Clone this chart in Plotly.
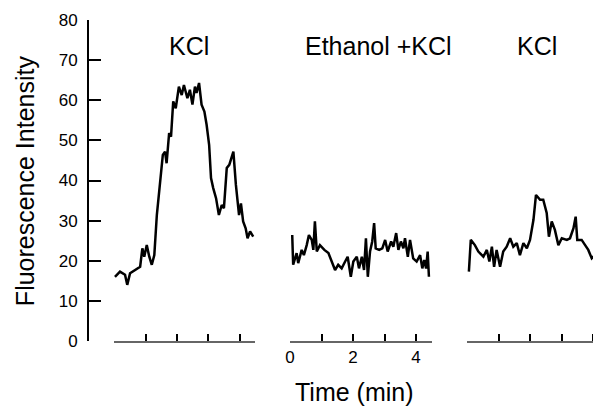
import plotly.graph_objects as go

# Panel 1: KCl
t1 = [0.03, 0.19, 0.35, 0.42, 0.51, 0.67, 0.83, 0.90, 0.96, 1.04, 1.12, 1.20, 1.28, 1.36, 1.46,
      1.55, 1.62, 1.67, 1.75, 1.81, 1.88, 1.96, 2.06, 2.15, 2.22, 2.33, 2.41, 2.49, 2.57, 2.62,
      2.70, 2.78, 2.87, 2.94, 3.02, 3.08, 3.15, 3.24, 3.33, 3.42, 3.49, 3.58, 3.66, 3.79, 3.87,
      3.97, 4.03, 4.10, 4.18, 4.24, 4.32, 4.42]
v1 = [16.0, 17.3, 16.5, 14.0, 16.9, 17.7, 18.5, 23.1, 21.0, 23.9, 21.0, 19.0, 21.4, 31.4, 38.9,
      46.4, 47.2, 44.3, 51.8, 50.9, 59.7, 58.0, 63.4, 61.3, 63.8, 60.5, 62.6, 58.9, 63.4, 61.8,
      64.3, 58.9, 57.2, 53.9, 48.9, 40.6, 38.1, 35.6, 31.4, 33.9, 33.1, 43.1, 43.9, 47.2, 38.9,
      31.4, 34.3, 29.8, 28.1, 25.6, 27.3, 26.0]

# Panel 2: Ethanol + KCl
t2 = [0.07, 0.10, 0.21, 0.26, 0.37, 0.44, 0.53, 0.60, 0.69, 0.74, 0.79, 0.85, 0.95, 1.09, 1.22,
      1.32, 1.43, 1.53, 1.64, 1.75, 1.83, 1.93, 2.01, 2.12, 2.19, 2.28, 2.35, 2.41, 2.47, 2.54,
      2.61, 2.67, 2.72, 2.83, 2.93, 3.02, 3.10, 3.21, 3.28, 3.37, 3.44, 3.52, 3.60, 3.65, 3.74,
      3.81, 3.91, 4.02, 4.13, 4.20, 4.26, 4.32, 4.37, 4.41]
v2 = [26.4, 19.0, 21.9, 19.4, 22.7, 21.4, 23.9, 26.4, 25.2, 22.7, 29.8, 22.3, 23.9, 22.7, 21.9,
      19.8, 17.7, 19.0, 18.1, 19.8, 21.0, 16.0, 19.8, 21.0, 18.1, 21.0, 17.7, 25.6, 16.0, 22.3,
      24.8, 29.4, 23.1, 22.7, 23.1, 25.2, 22.3, 24.8, 23.5, 26.9, 22.7, 24.8, 23.1, 25.6, 21.0,
      25.2, 20.6, 19.8, 21.4, 18.1, 20.2, 18.1, 22.3, 16.0]

# Panel 3: KCl
t3 = [0.06, 0.12, 0.25, 0.36, 0.52, 0.63, 0.71, 0.79, 0.86, 0.94, 1.05, 1.15, 1.26, 1.37, 1.47,
      1.58, 1.68, 1.79, 1.90, 2.00, 2.11, 2.19, 2.32, 2.42, 2.53, 2.60, 2.69, 2.79, 2.90, 3.01,
      3.17, 3.27, 3.38, 3.45, 3.50, 3.64, 3.75, 3.85, 3.96, 4.06, 4.17, 4.24]
v3 = [17.3, 25.2, 23.9, 22.3, 21.0, 22.7, 19.8, 23.5, 18.5, 22.7, 18.5, 22.3, 23.5, 25.6, 23.5,
      24.4, 21.4, 24.4, 23.1, 25.2, 30.2, 36.4, 35.2, 35.2, 31.9, 26.0, 29.8, 27.7, 23.9, 25.6,
      25.2, 25.6, 28.1, 31.0, 25.2, 25.2, 23.9, 22.7, 20.6, 21.4, 21.0, 24.4]

panel_titles = ["KCl", "Ethanol +KCl", "KCl"]
x_ticks = [0, 1, 2, 3, 4]
x_ticktext = ["0", "", "2", "", "4"]
y_ticks = [0, 10, 20, 30, 40, 50, 60, 70, 80]

FONT = "Liberation Sans, Arial, sans-serif"
line = dict(color="black", width=2.5)

fig = go.Figure()
fig.add_trace(go.Scatter(x=t1, y=v1, mode="lines", line=line, xaxis="x", yaxis="y"))
fig.add_trace(go.Scatter(x=t2, y=v2, mode="lines", line=line, xaxis="x2", yaxis="y"))
fig.add_trace(go.Scatter(x=t3, y=v3, mode="lines", line=line, xaxis="x3", yaxis="y"))

xcommon = dict(showline=True, linecolor="#666", linewidth=1.5, ticks="inside", ticklen=7,
               tickwidth=1.5, tickcolor="black", showgrid=False, zeroline=False,
               tickvals=x_ticks, anchor="y")

# page body has an 8px default margin, so the figure is sized to fit the 601x409 window
fig.update_layout(
    width=593, height=401,
    margin=dict(l=80, r=0, t=12, b=68),
    paper_bgcolor="white", plot_bgcolor="white",
    showlegend=False,
    font=dict(family=FONT, color="black"),
    xaxis=dict(domain=[0.0507, 0.3255], range=[0, 4.476], showticklabels=False, **xcommon),
    xaxis2=dict(domain=[0.3938, 0.6706], range=[0, 4.508], showticklabels=True,
                ticktext=x_ticktext, tickfont=dict(size=17), **xcommon),
    xaxis3=dict(domain=[0.7388, 1.0], range=[0, 4.254], showticklabels=False, **xcommon),
    yaxis=dict(range=[0, 80], tickvals=y_ticks, showline=True, linecolor="black", linewidth=2,
               ticks="inside", ticklen=12, tickwidth=1.5, tickcolor="black",
               showgrid=False, zeroline=False, anchor="free", position=0,
               tickfont=dict(size=17), ticklabelstandoff=6),
)

ann_x = [0.197, 0.567, 0.8747]
for xp, txt in zip(ann_x, panel_titles):
    fig.add_annotation(text=txt, x=xp, y=0.92, xref="paper", yref="paper",
                       showarrow=False, xanchor="center", yanchor="middle",
                       font=dict(size=25, family=FONT))

fig.add_annotation(text="Fluorescence Intensity", x=-0.1228, y=0.498, xref="paper", yref="paper",
                   showarrow=False, textangle=-90, xanchor="center", yanchor="middle",
                   font=dict(size=25, family=FONT))
fig.add_annotation(text="Time (min)", x=0.5195, y=-0.16, xref="paper", yref="paper",
                   showarrow=False, xanchor="center", yanchor="middle",
                   font=dict(size=25, family=FONT))

fig.write_html("out.html")
